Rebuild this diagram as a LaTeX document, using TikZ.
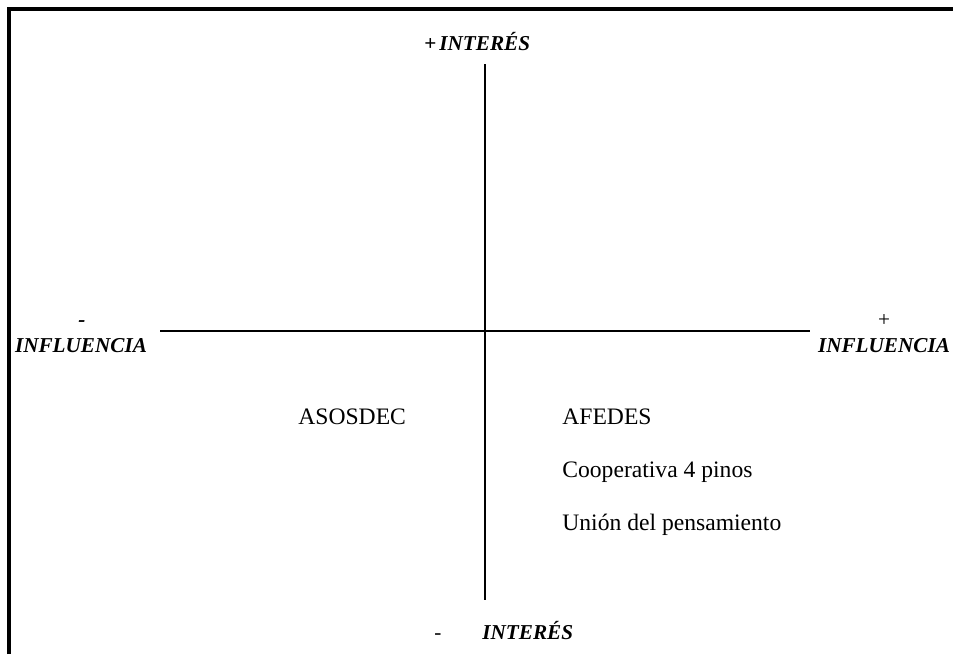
\documentclass[tikz,border=0pt]{standalone}
\usepackage{fontspec}
\setmainfont{Liberation Serif}
\begin{document}
\begin{tikzpicture}[x=0.5pt,y=-0.5pt,
  frame/.style={line width=1.6pt},
  axis/.style={line width=1pt},
  lbl/.style={inner sep=0pt,font=\fontsize{10.6pt}{12pt}\selectfont\bfseries\itshape},
  sym/.style={inner sep=0pt,font=\fontsize{10.6pt}{12pt}\selectfont},
  actor/.style={inner sep=0pt,anchor=base west,font=\fontsize{11.8pt}{14pt}\selectfont}]
\useasboundingbox (0,0) rectangle (953,654);
% frame (top and left edges)
\coordinate (fbl) at (9,654);
\coordinate (ftl) at (9,9);
\coordinate (ftr) at (953,9);
\draw[frame] (fbl) -- (ftl) -- (ftr);
% axes
\coordinate (vt) at (485,64);
\coordinate (vb) at (485,600);
\coordinate (hl) at (160,331);
\coordinate (hr) at (810,331);
\draw[axis] (vt) -- (vb);
\draw[axis] (hl) -- (hr);
% axis labels
\node[sym,anchor=base west] (tplus) at (424,50) {\bfseries +};
\node[lbl,anchor=base west] (ttop) at (439,50) {INTERÉS};
\node[sym,anchor=base] (bminus) at (438,639) {-};
\node[lbl,anchor=base west] (tbot) at (482,639) {INTERÉS};
\node[lbl,anchor=base] (lminus) at (82,326) {-};
\node[lbl,anchor=base] (linf) at (81,352) {INFLUENCIA};
\node[sym,anchor=base] (rplus) at (884,326) {+};
\node[lbl,anchor=base] (rinf) at (884,352) {INFLUENCIA};
% actors
\node[actor] (asosdec) at (298,424) {ASOSDEC};
\node[actor] (afedes) at (562,424) {AFEDES};
\node[actor] (coop) at (562,477) {Cooperativa 4 pinos};
\node[actor] (union) at (562,530) {Unión del pensamiento};
\end{tikzpicture}
\end{document}
